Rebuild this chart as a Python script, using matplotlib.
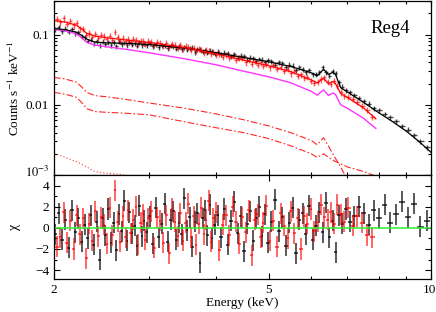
import numpy as np
import matplotlib.pyplot as plt
import matplotlib.transforms as mtransforms
from matplotlib.ticker import FixedLocator, FixedFormatter, NullFormatter, MultipleLocator

plt.rcParams['font.family'] = ['Liberation Serif', 'DejaVu Serif']
plt.rcParams['mathtext.fontset'] = 'stix'

# model curves (keV, counts/s/keV)
mod_e = [2.0, 2.1, 2.2, 2.25, 2.3, 2.38, 2.5, 2.7, 3.0, 3.5, 4.0, 4.5, 5.0, 5.5,
         6.0, 6.15, 6.32, 6.45, 6.58, 6.65, 6.8, 7.0, 7.5, 7.9]
blk_mod_e = mod_e + [8.5, 9.0, 9.5, 10.0]
blk_mod = [0.122, 0.117, 0.108, 0.097, 0.086, 0.078, 0.076, 0.075, 0.072, 0.064, 0.055,
           0.047, 0.041, 0.035, 0.0285, 0.0258, 0.032, 0.027, 0.029, 0.027, 0.0175,
           0.0152, 0.0108, 0.0082, 0.0057, 0.0042, 0.0030, 0.0021]
red_mod = [0.158, 0.150, 0.136, 0.120, 0.104, 0.095, 0.090, 0.084, 0.077, 0.065, 0.053,
           0.043, 0.036, 0.0295, 0.0225, 0.0205, 0.024, 0.020, 0.0215, 0.020, 0.0145,
           0.0127, 0.0090, 0.0063]
mag_mod = [0.118, 0.113, 0.102, 0.090, 0.077, 0.071, 0.067, 0.062, 0.055, 0.045, 0.037,
           0.030, 0.025, 0.0205, 0.0155, 0.0137, 0.0163, 0.0136, 0.0147, 0.0140, 0.0100,
           0.0089, 0.0064, 0.0046]
dd1_e = [2.0, 2.1, 2.2, 2.25, 2.3, 2.38, 2.5, 2.7, 3.0, 3.5, 4.0, 4.5, 5.0, 5.5,
         6.0, 6.15, 6.32, 6.45, 6.6, 6.8, 6.95]
dd1 = [0.0245, 0.0232, 0.0210, 0.0180, 0.0150, 0.0135, 0.0130, 0.0120, 0.0106, 0.0089,
       0.0074, 0.0061, 0.0050, 0.0040, 0.0031, 0.0027, 0.0034, 0.0026, 0.0019, 0.0013, 0.00095]
dd2_e = [2.0, 2.1, 2.2, 2.25, 2.3, 2.38, 2.5, 2.7, 3.0, 3.5, 4.0, 4.5, 5.0, 5.5,
         6.0, 6.15, 6.32, 6.6, 7.0, 7.5, 7.9]
dd2 = [0.0150, 0.0141, 0.0128, 0.0108, 0.0088, 0.0080, 0.0078, 0.0076, 0.0072, 0.0057,
       0.0047, 0.0040, 0.0033, 0.0026, 0.0020, 0.00178, 0.0020, 0.00160, 0.0013, 0.00112, 0.00096]
dot_e = [2.0, 2.1, 2.2, 2.3, 2.38, 2.5, 2.6, 2.68, 2.8]
dot = [0.00204, 0.00178, 0.00155, 0.00130, 0.00112, 0.00106, 0.00104, 0.00101, 0.00094]

# black spectrum
blk_e = [2.01, 2.04, 2.07, 2.10, 2.13, 2.16, 2.19, 2.22, 2.25, 2.28, 2.31, 2.34, 2.37, 2.40,
         2.43, 2.46, 2.49, 2.52, 2.55, 2.58, 2.61, 2.64, 2.67, 2.70, 2.73, 2.76, 2.79, 2.82,
         2.85, 2.88, 2.91, 2.94, 2.97, 3.01, 3.05, 3.09, 3.13, 3.17, 3.21, 3.25, 3.29, 3.33,
         3.37, 3.41, 3.45, 3.49, 3.53, 3.57, 3.61, 3.65, 3.69, 3.73, 3.77, 3.81, 3.85, 3.89,
         3.93, 3.97, 4.02, 4.08, 4.14, 4.20, 4.26, 4.32, 4.38, 4.44, 4.50, 4.56, 4.62, 4.68,
         4.74, 4.80, 4.86, 4.92, 4.98, 5.06, 5.14, 5.22, 5.30, 5.38, 5.46, 5.54, 5.62, 5.70,
         5.78, 5.86, 5.94, 6.03, 6.12, 6.21, 6.30, 6.39, 6.48, 6.57, 6.66, 6.75, 6.85, 6.96,
         7.08, 7.21, 7.35, 7.50, 7.66, 7.83, 8.01, 8.20, 8.40, 8.61, 8.83, 9.06, 9.30, 9.55, 9.82]
blk_cts = [0.118, 0.127, 0.112, 0.121, 0.109, 0.118, 0.104, 0.108, 0.093, 0.092, 0.081, 0.084,
           0.074, 0.080, 0.071, 0.079, 0.073, 0.078, 0.070, 0.077, 0.068, 0.079, 0.073, 0.076,
           0.071, 0.078, 0.072, 0.075, 0.069, 0.077, 0.071, 0.074, 0.070,
           0.075, 0.068, 0.073, 0.066, 0.071, 0.070, 0.064, 0.069, 0.068, 0.063, 0.067, 0.062,
           0.066, 0.061, 0.064, 0.065, 0.056, 0.062, 0.061, 0.057, 0.060, 0.055, 0.059, 0.057, 0.053,
           0.057, 0.052, 0.055, 0.054, 0.049, 0.052, 0.047, 0.050, 0.049, 0.044, 0.047, 0.046,
           0.042, 0.045, 0.044, 0.040, 0.043,
           0.042, 0.037, 0.040, 0.039, 0.034, 0.037, 0.036, 0.031, 0.034, 0.032, 0.029, 0.031,
           0.027, 0.027, 0.029, 0.034, 0.029, 0.026, 0.030, 0.028, 0.021, 0.018, 0.0160,
           0.0150, 0.0138, 0.0125, 0.0113, 0.0104, 0.0089,
           0.0083, 0.0074, 0.0066, 0.0058, 0.0050, 0.0044, 0.0037, 0.0030, 0.0025]
blk_chi = [-0.6, 1.4, -1.1, 0.8, -1.9, 1.7, -0.4, 0.9, -1.3, 0.3,
           -1.0, 1.2, -1.6, 0.6, -3.0, 0.9, -0.7, 1.8, -1.4, 0.5,
           -2.1, 1.3, -0.3, 2.6, -1.2, 1.5, -0.5, 0.2, -1.7, 2.1,
           -0.8, 0.7, -0.4, 1.1, -1.5, 1.9, -0.9, 0.4, 2.3, -1.3,
           0.8, 1.6, -1.1, 0.5, -0.6, 2.8, -0.2, 1.0, -1.8, 0.6,
           1.4, -3.3, 0.9, 1.7, -0.7, 2.2, -1.0, 0.3, 1.2, -0.9,
           1.8, -1.6, 0.7, 2.5, -0.5, 1.1, -2.2, 0.4, 1.6, -1.2,
           0.9, 2.0, -0.8, 1.3, -1.4, 0.6, 2.7, -0.3, 1.0, -1.7,
           0.5, 1.9, -2.4, 0.8, 1.4, -0.6, 2.1, -1.1, 0.2, 1.5,
           -0.4, 2.4, -0.9, 0.7, -2.3, 1.2, 0.4, 1.8, 0.6, 1.1,
           2.0, 1.4, 0.3, 1.7, 0.9, 2.2, 0.5, 1.3, 2.5, 1.0,
           2.3, 0.1, 0.7]
blk_rel_err = 0.08

# red spectrum
red_e = [2.025, 2.055, 2.085, 2.115, 2.145, 2.175, 2.205, 2.235, 2.265, 2.295, 2.325, 2.355,
         2.385, 2.415, 2.445, 2.475, 2.505, 2.535, 2.565, 2.595, 2.625, 2.655, 2.685, 2.715,
         2.745, 2.775, 2.805, 2.835, 2.865, 2.895, 2.925, 2.955, 2.985,
         3.03, 3.07, 3.11, 3.15, 3.19, 3.23, 3.27, 3.31, 3.35, 3.39, 3.43, 3.47, 3.51, 3.55,
         3.59, 3.63, 3.67, 3.71, 3.75, 3.79, 3.83, 3.87, 3.91, 3.95, 3.99,
         4.05, 4.11, 4.17, 4.23, 4.29, 4.35, 4.41, 4.47, 4.53, 4.59, 4.65, 4.71, 4.77, 4.83,
         4.89, 4.95, 5.02, 5.10, 5.18, 5.26, 5.34, 5.42, 5.50, 5.58, 5.66, 5.74, 5.82, 5.90,
         5.98, 6.07, 6.16, 6.25, 6.34, 6.43, 6.52, 6.61, 6.70, 6.80, 6.91,
         7.03, 7.16, 7.30, 7.45, 7.61, 7.78]
red_cts = [0.165, 0.149, 0.170, 0.141, 0.158, 0.135, 0.148, 0.122, 0.120, 0.099, 0.104, 0.093,
           0.101, 0.089, 0.099, 0.094, 0.086, 0.095, 0.083, 0.110, 0.091, 0.082, 0.089, 0.080,
           0.087, 0.079, 0.086, 0.083, 0.075, 0.082, 0.080, 0.073, 0.080,
           0.079, 0.071, 0.078, 0.076, 0.068, 0.075, 0.067, 0.074, 0.072, 0.065, 0.070, 0.063,
           0.068, 0.066, 0.060, 0.065, 0.058, 0.063, 0.061, 0.055, 0.060, 0.058, 0.053, 0.057, 0.051,
           0.054, 0.048, 0.052, 0.046, 0.049, 0.044, 0.047, 0.046, 0.040, 0.043, 0.038, 0.042,
           0.037, 0.040, 0.036, 0.038,
           0.034, 0.037, 0.032, 0.035, 0.030, 0.032, 0.028, 0.030, 0.026, 0.027, 0.024, 0.025, 0.022,
           0.0205, 0.0212, 0.023, 0.0245, 0.0212, 0.0200, 0.0218, 0.0185, 0.0150, 0.0133,
           0.0128, 0.0121, 0.0110, 0.0097, 0.0085, 0.0067]
red_chi = [-1.8, -0.9, 1.5, -1.4, 0.7, -2.0, 1.2, -0.6, 0.9, -2.9,
           0.4, -1.2, 1.6, -0.8, 1.0, 0.3, -1.5, 1.9, -0.7, 3.6,
           0.6, -1.3, 1.1, -0.9, 1.7, -0.5, 0.8, 2.0, -1.6, 0.5,
           1.3, -1.1, 0.9, 1.6, -1.9, 1.0, 0.7, -1.4, 1.2, -2.4,
           1.8, 0.6, -0.8, 1.4, -1.2, 0.5, 2.3, -0.9, 1.1, -1.6,
           0.4, 1.9, -0.6, 0.8, 2.6, -1.3, 0.9, 1.5, -2.1, 0.3,
           1.2, -0.7, 2.0, 0.6, -1.5, 1.0, -0.4, 1.7, -2.6, 0.8,
           1.3, -0.9, 0.5, 2.1, -1.2, 0.7, -1.8, 1.4, 0.2, -1.0,
           1.6, -0.5, 0.9, -2.0, 1.1, 0.4, 1.8, -0.3, 0.6, 2.2,
           1.0, 0.8, 1.5, 0.4, 2.2, 1.3, 0.6, 1.9, 0.2, 1.1,
           0.5, -0.7, -0.9]
red_rel_err = 0.10


def bin_halfwidths(e):
    e = np.asarray(e)
    mids = np.sqrt(e[1:] * e[:-1])
    lo = np.concatenate([[e[0] ** 2 / mids[0]], mids])
    hi = np.concatenate([mids, [e[-1] ** 2 / mids[-1]]])
    return np.vstack([e - lo, hi - e])


blk_xerr = bin_halfwidths(blk_e)
red_xerr = bin_halfwidths(red_e)

fig = plt.figure(figsize=(4.36, 3.12), dpi=100)
ax1 = fig.add_axes([0.1239, 0.4391, 0.8647, 0.5577])
ax2 = fig.add_axes([0.1239, 0.1058, 0.8647, 0.3333], sharex=ax1)

# top panel: spectra + model components
ax1.errorbar(blk_e, blk_cts, xerr=blk_xerr, yerr=np.array(blk_cts) * blk_rel_err,
             fmt='none', ecolor='black', elinewidth=1.0, alpha=0.7)
ax1.errorbar(red_e, red_cts, xerr=red_xerr, yerr=np.array(red_cts) * red_rel_err,
             fmt='none', ecolor='red', elinewidth=1.0, alpha=0.65)
ax1.plot(mod_e, mag_mod, color='#ff33ff', lw=1.0)
ax1.plot(blk_mod_e, blk_mod, color='black', lw=0.9)
ax1.plot(mod_e, red_mod, color='red', lw=0.9)
ax1.plot(dd1_e, dd1, color='red', lw=0.8, alpha=0.85, linestyle=(0, (6, 2, 1.5, 2)))
ax1.plot(dd2_e, dd2, color='red', lw=0.8, alpha=0.85, linestyle=(0, (6, 2, 1.5, 2)))
ax1.plot(dot_e, dot, color='red', lw=0.8, alpha=0.8, linestyle=(0, (1, 2)))

ax1.set_xscale('log')
ax1.set_yscale('log')
ax1.set_xlim(2, 10)
ax1.set_ylim(1e-3, 0.3)
ax1.yaxis.set_major_locator(FixedLocator([1e-3, 1e-2, 1e-1]))
ax1.yaxis.set_major_formatter(FixedFormatter([r'$10^{-3}$', '0.01', '0.1']))
ax1.set_ylabel(r'Counts s$^{-1}$ keV$^{-1}$', fontsize=9.5, labelpad=2)
ax1.text(0.944, 0.84, 'Reg4', transform=ax1.transAxes, fontsize=13.5,
         ha='right', va='center')

# bottom panel: residuals
ax2.errorbar(blk_e, blk_chi, xerr=blk_xerr, yerr=1.0, fmt='none',
             ecolor='black', elinewidth=1.4, alpha=0.65)
ax2.errorbar(red_e, red_chi, xerr=red_xerr, yerr=1.0, fmt='none',
             ecolor='red', elinewidth=1.4, alpha=0.6)
ax2.axhline(0, color='#33ee33', lw=1.4, alpha=0.8)
ax2.set_ylim(-4.85, 5.03)
ax2.yaxis.set_major_locator(MultipleLocator(2))
ax2.yaxis.set_minor_locator(MultipleLocator(1))
ax2.set_ylabel('χ', fontsize=10, labelpad=10)
ax2.set_xlabel('Energy (keV)', fontsize=9.5, labelpad=1)

for ax in (ax1, ax2):
    ax.xaxis.set_major_locator(FixedLocator([2, 5, 10]))
    ax.xaxis.set_minor_locator(FixedLocator([3, 4, 6, 7, 8, 9]))
    ax.xaxis.set_minor_formatter(NullFormatter())
    ax.tick_params(which='both', direction='in', top=True, right=True, labelsize=9.5)
    ax.tick_params(which='major', length=4, width=0.8)
    ax.tick_params(which='minor', length=2.5, width=0.8)
    for s in ax.spines.values():
        s.set_linewidth(0.9)

ax2.xaxis.set_major_formatter(FixedFormatter(['2', '5', '10']))
plt.setp(ax1.get_xticklabels(), visible=False)

# keep "10" inside the figure and lift 10^-3 off the residual labels
fig.canvas.draw()
ax2.get_xticklabels()[-1].set_ha('right')
ax2.get_xticklabels()[-1].set_transform(ax2.get_xticklabels()[-1].get_transform()
                                        + mtransforms.ScaledTranslation(4 / 72, 0, fig.dpi_scale_trans))
lab3 = ax1.get_yticklabels()[0]
lab3.set_fontsize(9)
lab3.set_transform(lab3.get_transform() + mtransforms.ScaledTranslation(0, 3 / 72, fig.dpi_scale_trans))

fig.savefig('out.png', dpi=100)
